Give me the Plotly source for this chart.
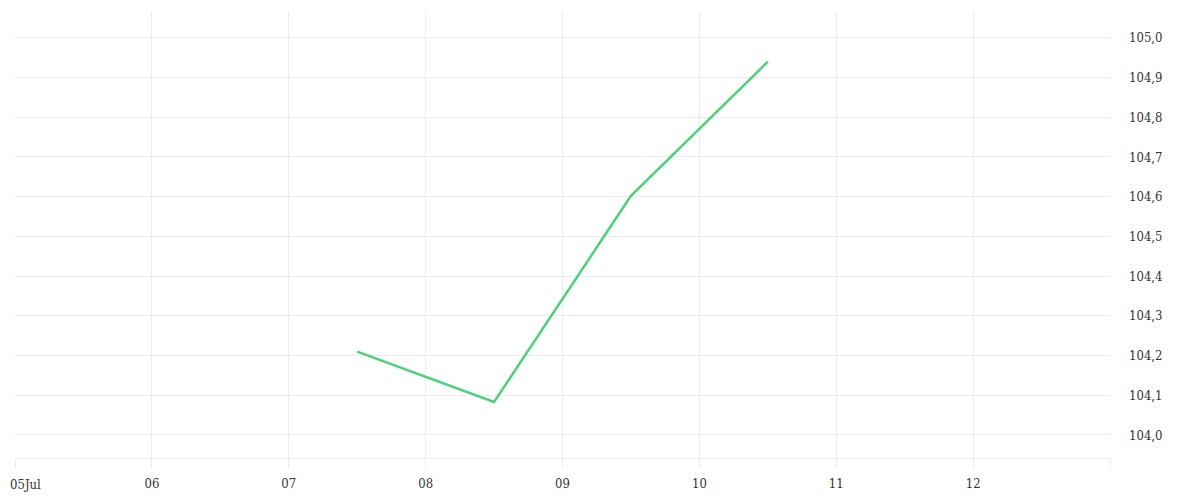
import plotly.graph_objects as go

dates = ["2024-07-07 12:00", "2024-07-08 12:00", "2024-07-09 12:00", "2024-07-10 12:00"]
values = [104.21, 104.083, 104.602, 104.94]

tick_dates = ["2024-07-05", "2024-07-06", "2024-07-07", "2024-07-08", "2024-07-09",
              "2024-07-10", "2024-07-11", "2024-07-12", "2024-07-13"]
tick_labels = ["05Jul", "06", "07", "08", "09", "10", "11", "12", ""]

y_ticks = [104.0, 104.1, 104.2, 104.3, 104.4, 104.5, 104.6, 104.7, 104.8, 104.9, 105.0]
y_labels = [f"{v:.1f}".replace(".", ",") for v in y_ticks]

grid = "#ececec"
font = dict(family="DejaVu Serif Condensed, DejaVu Serif", size=13, color="#333333")

fig = go.Figure()
fig.add_trace(go.Scatter(x=dates, y=values, mode="lines",
                         line=dict(color="#4ad27a", width=2.5),
                         hoverinfo="x+y", showlegend=False))

# first tick label drawn as a left-anchored annotation so it is not clipped at the edge
fig.add_annotation(x=tick_dates[0], xref="x", y=0, yref="paper",
                   text=tick_labels[0], showarrow=False,
                   xanchor="left", yanchor="middle", xshift=-7, yshift=-26,
                   font=font)

fig.update_layout(
    width=1200, height=500,
    margin=dict(l=7, r=98, t=4, b=50, autoexpand=False),
    paper_bgcolor="white", plot_bgcolor="white",
    font=font,
    xaxis=dict(type="date", range=["2024-07-05", "2024-07-13"],
               tickmode="array", tickvals=tick_dates,
               ticktext=[""] + tick_labels[1:],
               showgrid=True, gridcolor=grid, gridwidth=1,
               ticks="outside", ticklen=9, tickcolor=grid, tickwidth=1,
               showline=True, linecolor=grid, linewidth=1,
               zeroline=False, tickfont=font, automargin=False,
               ticklabelstandoff=4),
    yaxis=dict(side="right", range=[103.942, 105.065],
               tickmode="array", tickvals=y_ticks, ticktext=y_labels,
               showgrid=True, gridcolor=grid, gridwidth=1,
               ticks="", ticklabelstandoff=18,
               showline=False, zeroline=False, tickfont=font, automargin=False),
)

fig.write_html("out.html")
